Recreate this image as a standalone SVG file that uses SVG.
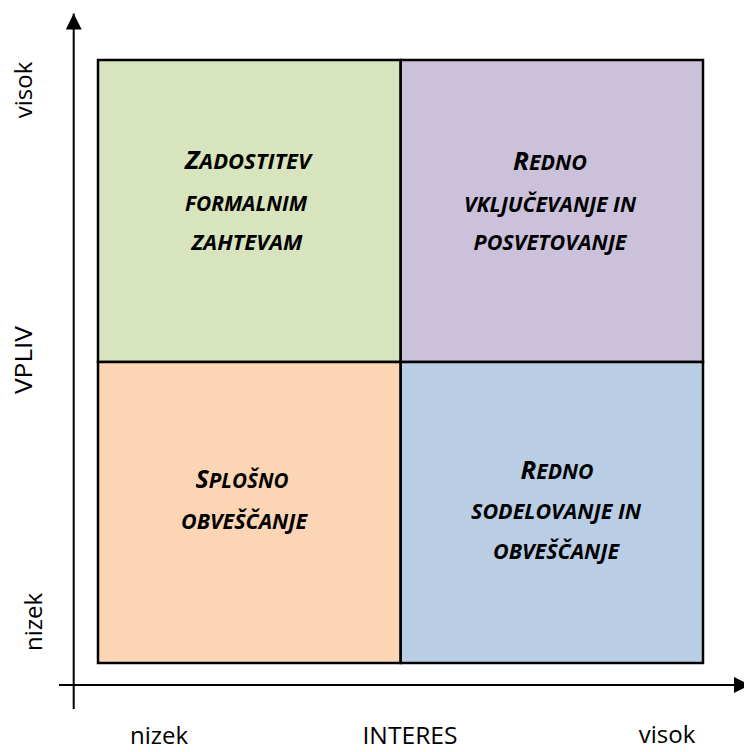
<svg xmlns="http://www.w3.org/2000/svg" width="744" height="752" viewBox="0 0 744 752">
<style>
.cell{stroke:#000;stroke-width:2.5}
.t{font-family:"Open Sans","Liberation Sans",sans-serif;font-weight:bold;font-style:italic;text-anchor:middle;fill:#000}
.cap{font-size:25px}
.sc{font-size:20.5px}
.lbl{font-family:"Open Sans","Liberation Sans",sans-serif;font-size:24px;fill:#000}
.axis{stroke:#000;stroke-width:2;fill:none}
</style>
<defs>
<marker id="arr" viewBox="0 0 16 16" markerUnits="userSpaceOnUse" markerWidth="16" markerHeight="16" refX="16" refY="8" orient="auto">
<path d="M0,0 L16,8 L0,16 z" fill="#000"/>
</marker>
</defs>
<rect width="744" height="752" fill="#fff"/>
<g id="q-zadostitev">
<rect class="cell" x="98" y="60" width="302.7" height="302" fill="#D7E4BD"/>
<text class="t" x="248" y="169" textLength="126" lengthAdjust="spacingAndGlyphs"><tspan class="cap">Z</tspan><tspan class="sc">ADOSTITEV</tspan></text>
<text class="t sc" x="246" y="211" textLength="122" lengthAdjust="spacingAndGlyphs">FORMALNIM</text>
<text class="t sc" x="247" y="250" textLength="111" lengthAdjust="spacingAndGlyphs">ZAHTEVAM</text>
</g>
<g id="q-redno-vkljucevanje">
<rect class="cell" x="400.7" y="60" width="302.3" height="302" fill="#CCC1DA"/>
<text class="t" x="550" y="170" textLength="74" lengthAdjust="spacingAndGlyphs"><tspan class="cap">R</tspan><tspan class="sc">EDNO</tspan></text>
<text class="t sc" x="550" y="212" textLength="172" lengthAdjust="spacingAndGlyphs">VKLJUČEVANJE IN</text>
<text class="t sc" x="550" y="250" textLength="153" lengthAdjust="spacingAndGlyphs">POSVETOVANJE</text>
</g>
<g id="q-splosno">
<rect class="cell" x="98" y="362" width="302.7" height="301" fill="#FCD5B5"/>
<text class="t" x="242" y="488" textLength="93" lengthAdjust="spacingAndGlyphs"><tspan class="cap">S</tspan><tspan class="sc">PLOŠNO</tspan></text>
<text class="t sc" x="244" y="529" textLength="126" lengthAdjust="spacingAndGlyphs">OBVEŠČANJE</text>
</g>
<g id="q-redno-sodelovanje">
<rect class="cell" x="400.7" y="362" width="302.3" height="301" fill="#B9CDE5"/>
<text class="t" x="557" y="479" textLength="73" lengthAdjust="spacingAndGlyphs"><tspan class="cap">R</tspan><tspan class="sc">EDNO</tspan></text>
<text class="t sc" x="556" y="519" textLength="170" lengthAdjust="spacingAndGlyphs">SODELOVANJE IN</text>
<text class="t sc" x="556" y="559" textLength="126" lengthAdjust="spacingAndGlyphs">OBVEŠČANJE</text>
</g>
<g id="connectors">
<line class="axis" x1="73.7" y1="709" x2="73.7" y2="13.5" marker-end="url(#arr)"/>
<line class="axis" x1="59" y1="685" x2="750" y2="685" marker-end="url(#arr)"/>
</g>
<g id="axis-labels">
<text class="lbl" transform="translate(32,90) rotate(-90)" text-anchor="middle">visok</text>
<text class="lbl" transform="translate(32,360) rotate(-90)" text-anchor="middle" textLength="68" lengthAdjust="spacingAndGlyphs">VPLIV</text>
<text class="lbl" transform="translate(41.5,622) rotate(-90)" text-anchor="middle">nizek</text>
<text class="lbl" x="159" y="744" text-anchor="middle">nizek</text>
<text class="lbl" x="410" y="744" text-anchor="middle" textLength="95" lengthAdjust="spacingAndGlyphs">INTERES</text>
<text class="lbl" x="667" y="743" text-anchor="middle">visok</text>
</g>
</svg>
